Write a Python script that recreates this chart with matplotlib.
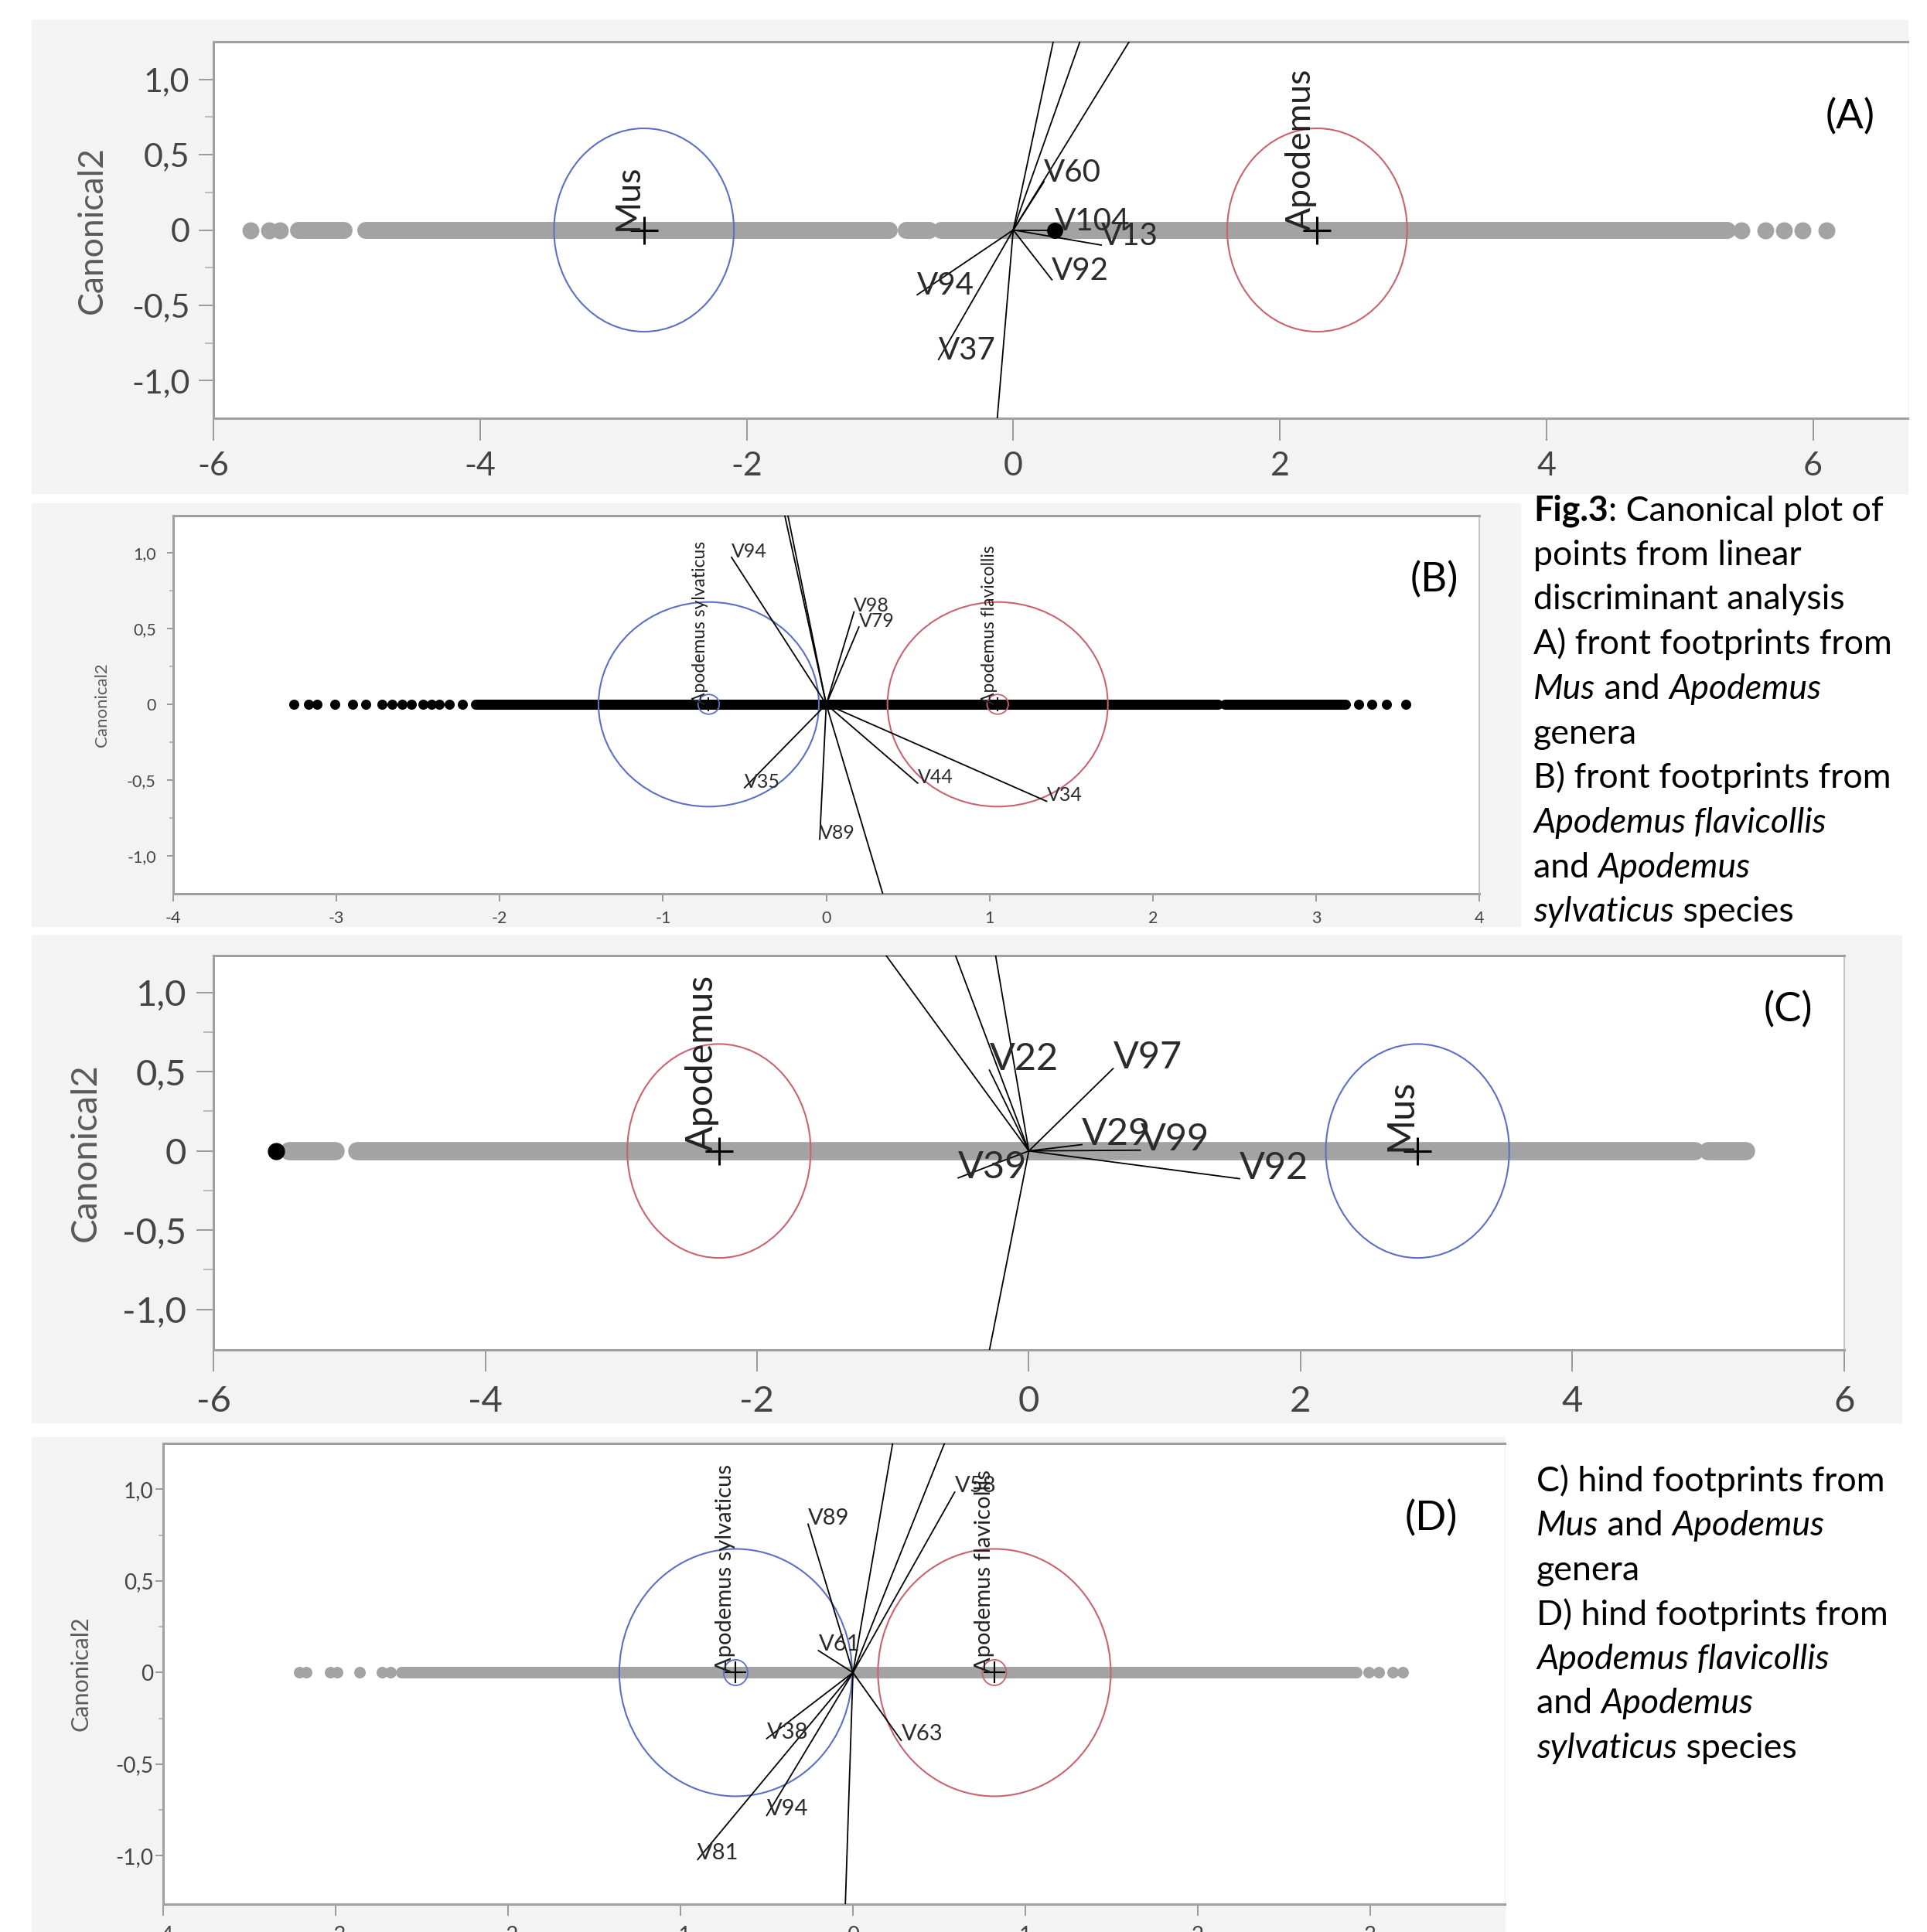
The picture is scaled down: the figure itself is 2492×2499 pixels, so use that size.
import numpy as np
import matplotlib.pyplot as plt
from matplotlib.patches import Ellipse, Rectangle

plt.rcParams['font.family'] = ['Lato', 'DejaVu Sans']

# ---- values ----
# (A) front footprints, Mus vs Apodemus
a_points = [-5.72, -5.58, -5.50, 5.46, 5.64, 5.78, 5.92, 6.10]
a_runs = [(-5.36, -5.02), (-4.86, -0.93), (-0.80, -0.63), (-0.54, 5.36)]   # dense runs of overlapping points
a_marked = [0.31]
a_groups = ['Mus', 'Apodemus']
a_means = [-2.77, 2.28]
a_rays = ['', '', '', 'V60', 'V104', 'V13', 'V92', 'V94', 'V37', '']
a_ray_x = [0.336, 0.56, 0.974, 0.23, 0.31, 0.66, 0.29, -0.72, -0.56, -0.134]
a_ray_y = [1.4, 1.4, 1.4, 0.32, 0.0, -0.10, -0.33, -0.43, -0.86, -1.4]

# (B) front footprints, A. sylvaticus vs A. flavicollis
b_points = [-3.26, -3.17, -3.12, -3.01, -2.90, -2.82, -2.72, -2.66, -2.60, -2.54,
            -2.47, -2.42, -2.37, -2.31, -2.23, 3.26, 3.34, 3.43, 3.55]
b_runs = [(-2.15, 2.40), (2.44, 3.18)]
b_marked = []
b_groups = ['Apodemus sylvaticus', 'Apodemus flavicollis']
b_means = [-0.72, 1.05]
b_rays = ['', '', 'V94', 'V98', 'V79', 'V35', 'V44', 'V34', 'V89', '']
b_ray_x = [-0.265, -0.245, -0.58, 0.17, 0.20, -0.50, 0.56, 1.35, -0.04, 0.36]
b_ray_y = [1.3, 1.3, 0.97, 0.61, 0.51, -0.55, -0.52, -0.64, -0.89, -1.3]

# (C) hind footprints, Apodemus vs Mus
c_points = []
c_runs = [(-5.44, -5.10), (-4.94, 4.90), (5.00, 5.28)]
c_marked = [-5.54]
c_groups = ['Apodemus', 'Mus']
c_means = [-2.28, 2.86]
c_rays = ['', '', '', 'V22', 'V97', 'V29', 'V99', 'V92', 'V39', '']
c_ray_x = [-1.107, -0.569, -0.258, -0.29, 0.62, 0.39, 0.82, 1.55, -0.52, -0.30]
c_ray_y = [1.3, 1.3, 1.3, 0.51, 0.52, 0.04, 0.005, -0.175, -0.17, -1.3]

# (D) hind footprints, A. sylvaticus vs A. flavicollis
d_points = [-3.21, -3.17, -3.03, -2.99, -2.86, -2.73, -2.68, 2.99, 3.05, 3.13, 3.19]
d_runs = [(-2.62, 2.92)]
d_marked = []
d_groups = ['Apodemus sylvaticus', 'Apodemus flavicollis']
d_means = [-0.68, 0.82]
d_rays = ['', '', 'V58', 'V89', 'V61', 'V63', 'V38', 'V94', 'V81', '']
d_ray_x = [0.243, 0.56, 0.59, -0.26, -0.20, 0.28, -0.50, -0.50, -0.90, -0.046]
d_ray_y = [1.32, 1.32, 0.985, 0.81, 0.12, -0.37, -0.36, -0.78, -1.02, -1.32]

y_ticks = [1.0, 0.5, 0.0, -0.5, -1.0]
y_ticklabels = ['1,0', '0,5', '0', '-0,5', '-1,0']

BLUE = '#5b70c2'
RED = '#c9636e'
GREY = '#a3a3a3'
BG = '#f3f3f3'

W, H = 2492, 2499
fig = plt.figure(figsize=(W / 100, H / 100), dpi=100)


def box(x0, y0, x1, y1):
    # pixel box (top-left origin) -> figure fraction rect
    return [x0 / W, 1 - y1 / H, (x1 - x0) / W, (y1 - y0) / H]


def canon(bg, rect, xlim, ylim, xticks, points, runs, marked, groups, means, colours,
          rays, rx, ry, st):
    fig.add_artist(Rectangle(bg[:2], bg[2], bg[3], transform=fig.transFigure,
                             color=BG, zorder=0))
    ax = fig.add_axes(rect)
    ax.set_xlim(xlim)
    ax.set_ylim(ylim)

    # points on canonical axis
    ax.plot(points, np.zeros(len(points)), 'o', ms=st['dot'], color=st['pc'],
            mec='none', zorder=2)
    for a, b in runs:
        ax.plot([a, b], [0, 0], color=st['pc'], lw=st['dot'],
                solid_capstyle='round', zorder=2)
    if marked:
        ax.plot(marked, np.zeros(len(marked)), 'o', ms=st['mark'], color='k', zorder=3)

    # group means with circles
    for g, m, c in zip(groups, means, colours):
        ax.add_patch(Ellipse((m, 0), 2 * st['r'], 2 * st['r'], fill=False,
                             ec=c, lw=1.5, zorder=3))
        if st['rs']:
            ax.add_patch(Ellipse((m, 0), 2 * st['rs'], 2 * st['rs'], fill=False,
                                 ec=c, lw=1.3, zorder=3))
        ax.plot(m, 0, marker='+', ms=st['plus'], mew=st['pw'], color='k', zorder=6)
        ax.text(m, 0.0, g, rotation=90, ha='right', va='bottom',
                fontsize=st['gfs'], color='#222222', zorder=6)

    # biplot rays
    for name, x, y in zip(rays, rx, ry):
        ax.plot([0, x], [0, y], color='k', lw=1.3, zorder=4)
        if name:
            ax.text(x, y, name, ha='left', va='baseline', fontsize=st['rfs'],
                    color='#2b2b2b', zorder=5)

    ax.set_xticks(xticks)
    ax.set_xticklabels([str(v) for v in xticks])
    ax.set_yticks(y_ticks)
    ax.set_yticklabels(y_ticklabels)
    ax.set_yticks([0.75, 0.25, -0.25, -0.75], minor=True)
    ax.tick_params(axis='x', length=st['xtl'], width=1.4, pad=st['xpad'],
                   labelsize=st['tfs'], color='#9a9a9a', labelcolor='#444444')
    ax.tick_params(axis='y', which='major', length=st['ytl'], width=1.4, pad=st['ypad'],
                   labelsize=st['tfs'], color='#9a9a9a', labelcolor='#444444')
    ax.tick_params(axis='y', which='minor', length=st['ytl'] * 0.6, width=1.2,
                   color='#b0b0b0')
    for s in ['top', 'bottom', 'left']:
        ax.spines[s].set_color('#a0a0a0')
        ax.spines[s].set_linewidth(2.2)
    if st['right']:
        ax.spines['right'].set_color('#c4c4c4')
        ax.spines['right'].set_linewidth(1.4)
    else:
        ax.spines['right'].set_visible(False)
    ax.set_ylabel('Canonical2', fontsize=st['lfs'], color='#5a5a5a')
    ax.yaxis.set_label_coords(st['ylx'], 0.5)
    return ax


st_a = dict(dot=15.8, pc=GREY, mark=14, r=0.675, rs=0, plus=26, pw=2.2, gfs=32, rfs=29,
            tfs=31, lfs=32, xtl=21, xpad=10, ytl=13.5, ypad=8.5, right=False, ylx=-0.062)
st_b = dict(dot=9.4, pc='black', mark=9, r=0.675, rs=0.065, plus=13, pw=1.3, gfs=16.5,
            rfs=18, tfs=15.5, lfs=16, xtl=7, xpad=8.5, ytl=6, ypad=10, right=True, ylx=-0.0486)
st_c = dict(dot=17, pc=GREY, mark=15, r=0.675, rs=0, plus=26, pw=2.2, gfs=35, rfs=35,
            tfs=34, lfs=34, xtl=20, xpad=13, ytl=16, ypad=9.4, right=True, ylx=-0.0683)
st_d = dict(dot=10.8, pc=GREY, mark=10, r=0.675, rs=0.07, plus=20, pw=1.5, gfs=21,
            rfs=21, tfs=20, lfs=22, xtl=11, xpad=9, ytl=7, ypad=2, right=False, ylx=-0.0536)

canon(box(41, 26, 2467, 638), box(276, 54, 2467, 541), (-6, 6.71), (-1.25, 1.25),
      [-6, -4, -2, 0, 2, 4, 6], a_points, a_runs, a_marked, a_groups, a_means,
      [BLUE, RED], a_rays, a_ray_x, a_ray_y, st_a)
canon(box(41, 651, 1966, 1198), box(224, 667, 1913, 1156), (-4, 4), (-1.25, 1.245),
      [-4, -3, -2, -1, 0, 1, 2, 3, 4], b_points, b_runs, b_marked, b_groups, b_means,
      [BLUE, RED], b_rays, b_ray_x, b_ray_y, st_b)
canon(box(41, 1210, 2459, 1840), box(276, 1236, 2385, 1746), (-6, 6), (-1.255, 1.233),
      [-6, -4, -2, 0, 2, 4, 6], c_points, c_runs, c_marked, c_groups, c_means,
      [RED, BLUE], c_rays, c_ray_x, c_ray_y, st_c)
canon(box(41, 1859, 1946, 2499), box(211, 1867, 1946, 2463), (-4, 3.78), (-1.264, 1.251),
      [-4, -3, -2, -1, 0, 1, 2, 3], d_points, d_runs, d_marked, d_groups, d_means,
      [BLUE, RED], d_rays, d_ray_x, d_ray_y, st_d)

# ---- panel letters and caption ----
over = fig.add_axes([0, 0, 1, 1], zorder=20)
over.axis('off')
over.set_xlim(0, 1)
over.set_ylim(0, 1)

for lab, x, y in [('(A)', 2393, 151), ('(B)', 1855, 750), ('(C)', 2312, 1306), ('(D)', 1851, 1964)]:
    over.text(x / W, 1 - y / H, lab, fontsize=38, ha='center', va='center')


def rich_line(x, y, parts, size=32.2):
    t = over.text(x / W, 1 - y / H, parts[0][0], fontsize=size, va='baseline',
                  style=parts[0][1], weight=parts[0][2])
    for s, sty, wt in parts[1:]:
        t = over.annotate(s, xy=(1, 0), xycoords=t, va='bottom', ha='left',
                          fontsize=size, style=sty, weight=wt)


N, I, B = 'normal', 'italic', 'bold'
caption1 = [
    [('Fig.3', N, B), (': Canonical plot of', N, N)],
    [('points from linear', N, N)],
    [('discriminant analysis', N, N)],
    [('A) front footprints from', N, N)],
    [('Mus', I, N), (' and ', N, N), ('Apodemus', I, N)],
    [('genera', N, N)],
    [('B) front footprints from', N, N)],
    [('Apodemus flavicollis', I, N)],
    [('and ', N, N), ('Apodemus', I, N)],
    [('sylvaticus', I, N), (' species', N, N)],
]
caption2 = [
    [('C) hind footprints from', N, N)],
    [('Mus', I, N), (' and ', N, N), ('Apodemus', I, N)],
    [('genera', N, N)],
    [('D) hind footprints from', N, N)],
    [('Apodemus flavicollis', I, N)],
    [('and ', N, N), ('Apodemus', I, N)],
    [('sylvaticus', I, N), (' species', N, N)],
]
for k, parts in enumerate(caption1):
    rich_line(1983, 673 + k * 57.7, parts)
for k, parts in enumerate(caption2):
    rich_line(1987, 1929 + k * 57.5, parts)

fig.savefig('out.png', dpi=100)
